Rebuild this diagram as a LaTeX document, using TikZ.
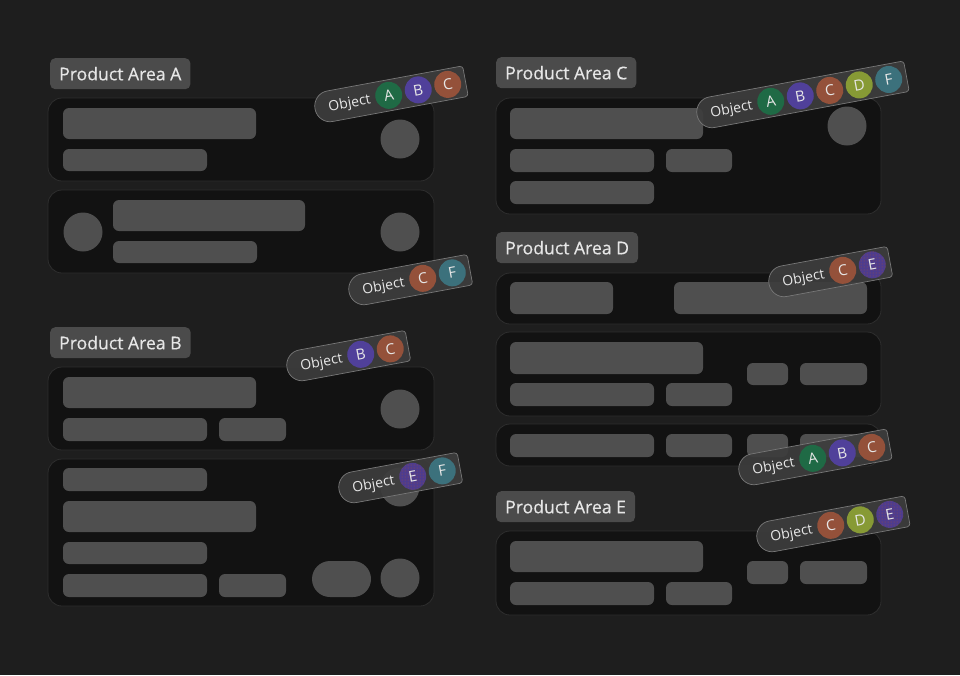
\documentclass[tikz,border=0pt]{standalone}
\usepackage{fontspec}
\setmainfont{Open Sans}
\newfontfamily\titulofuente{Open Sans}[FakeBold=0.5]
\usetikzlibrary{positioning, patterns}

\definecolor{fondo}{HTML}{1E1E1E}
\definecolor{tarjetafondo}{HTML}{121212}
\definecolor{tarjetaborde}{HTML}{2E2E2E}
\definecolor{gris}{HTML}{4F4F4F}
\definecolor{titulofondo}{HTML}{4B4B4B}
\definecolor{texto}{HTML}{E6E6E6}
\definecolor{pildorafondo}{HTML}{3D3D3D}
\definecolor{pildoraborde}{HTML}{787878}
\definecolor{objA}{HTML}{1F6A45}
\definecolor{objB}{HTML}{50409A}
\definecolor{objC}{HTML}{94513A}
\definecolor{objD}{HTML}{879A35}
\definecolor{objE}{HTML}{4E3C8E}
\definecolor{objEpunto}{HTML}{A0503E}
\definecolor{objF}{HTML}{3C717C}

% bloques de la maqueta
\newcommand{\tarjeta}[4]{\filldraw[tarjeta] (#1,#2) rectangle (#3,#4);}
\newcommand{\barra}[4]{\fill[barra] (#1,#2) rectangle (#3,#4);}
\newcommand{\punto}[2]{\fill[barra] (#1,#2) circle[radius=19.5pt];}
% etiqueta: nombre, x, y, cantidad, lista letra/color/puntos
\newcommand{\etiqueta}[5]{%
  \begin{scope}[shift={(#2,#3)}, rotate=10.5, transform shape]
    \pgfmathsetmacro{\largo}{63+30*#4}
    \filldraw[pildora] (15,-15.5) .. controls (6.7,-15.5) and (0,-8.5) .. (0,0)
      .. controls (0,8.5) and (6.7,15.5) .. (15,15.5) -- (\largo-3,15.5)
      .. controls (\largo-1.3,15.5) and (\largo,13.8) .. (\largo,12.5) -- (\largo,-12.5)
      .. controls (\largo,-13.8) and (\largo-1.3,-15.5) .. (\largo-3,-15.5) -- cycle;
    \node[objeto] (#1-obj) at (35,1.5) {Object};
    \foreach \l/\c/\p [count=\i from 0] in {#5}
      \node[circulo, fill=\c, postaction={pattern=dots, pattern color=\p}] (#1-\l) at (75+30*\i,0) {\l};
  \end{scope}}

\begin{document}
\begin{tikzpicture}[x=1pt, y=-1pt]
  \tikzstyle{tarjeta} = [fill=tarjetafondo, draw=tarjetaborde, line width=0.8pt, rounded corners=14pt]
  \tikzstyle{barra} = [fill=gris, rounded corners=6pt]
  \tikzstyle{titulo} = [fill=titulofondo, text=texto, rounded corners=5pt, anchor=north west, minimum height=31pt, inner xsep=9pt, font=\titulofuente\fontsize{17.6}{20}\selectfont]
  \tikzstyle{pildora} = [fill=pildorafondo, fill opacity=0.92, draw=pildoraborde, line width=0.7pt]
  \tikzstyle{objeto} = [text=texto, inner sep=0pt, font=\fontsize{14}{17}\selectfont]
  \tikzstyle{circulo} = [circle, minimum size=27pt, inner sep=0pt, text=texto, font=\fontsize{15}{17}\selectfont]

  \useasboundingbox[fill=fondo] (0,0) rectangle (960,675);

  % Product Area A
  \node[titulo] (tituloA) at (50,58) {Product Area A};
  \tarjeta{48}{98}{434}{181}
  \barra{63}{108}{256}{139}
  \barra{63}{149}{207}{171}
  \punto{400}{139}
  \tarjeta{48}{190}{434}{273}
  \punto{83}{232}
  \barra{113}{200}{305}{231}
  \barra{113}{241}{257}{263}
  \punto{400}{232}

  % Product Area B
  \node[titulo] (tituloB) at (50,327) {Product Area B};
  \tarjeta{48}{367}{434}{450}
  \barra{63}{377}{256}{408}
  \barra{63}{418}{207}{441}
  \barra{219}{418}{286}{441}
  \punto{400}{409}
  \tarjeta{48}{459}{434}{606}
  \barra{63}{468}{207}{491}
  \barra{63}{501}{256}{532}
  \barra{63}{542}{207}{564}
  \barra{63}{574}{207}{597}
  \barra{219}{574}{286}{597}
  \fill[barra, rounded corners=18pt] (312,561) rectangle (371,597);
  \punto{400}{578}
  \punto{400}{487}

  % Product Area C
  \node[titulo] (tituloC) at (496,57) {Product Area C};
  \tarjeta{496}{98}{881}{214}
  \barra{510}{108}{703}{139}
  \barra{510}{149}{654}{172}
  \barra{666}{149}{732}{172}
  \barra{510}{181}{654}{204}
  \punto{847}{126}

  % Product Area D
  \node[titulo] (tituloD) at (496,232) {Product Area D};
  \tarjeta{496}{273}{881}{324}
  \barra{510}{282}{613}{314}
  \barra{674}{282}{867}{314}
  \tarjeta{496}{332}{881}{416}
  \barra{510}{342}{703}{374}
  \barra{510}{383}{654}{406}
  \barra{666}{383}{732}{406}
  \barra{747}{363}{788}{385}
  \barra{800}{363}{867}{385}
  \tarjeta{496}{424}{881}{466}
  \barra{510}{434}{654}{457}
  \barra{666}{434}{732}{457}
  \barra{747}{434}{788}{457}
  \barra{800}{434}{867}{457}

  % Product Area E
  \node[titulo] (tituloE) at (496,491) {Product Area E};
  \tarjeta{496}{531}{881}{615}
  \barra{510}{541}{703}{572}
  \barra{510}{582}{654}{605}
  \barra{666}{582}{732}{605}
  \barra{747}{561}{788}{584}
  \barra{800}{561}{867}{584}

  % etiquetas de objetos
  \etiqueta{tagAuno}{315}{109}{3}{A/objA/objA, B/objB/objB, C/objC/objC}
  \etiqueta{tagAdos}{349}{292}{2}{C/objC/objC, F/objF/objF}
  \etiqueta{tagBuno}{287}{368}{2}{B/objB/objB, C/objC/objC}
  \etiqueta{tagBdos}{339}{490}{2}{E/objE/objEpunto, F/objF/objF}
  \etiqueta{tagC}{697}{115}{5}{A/objA/objA, B/objB/objB, C/objC/objC, D/objD/objD, F/objF/objF}
  \etiqueta{tagDuno}{769}{284}{2}{C/objC/objC, E/objE/objEpunto}
  \etiqueta{tagDtres}{739}{472}{3}{A/objA/objA, B/objB/objB, C/objC/objC}
  \etiqueta{tagE}{757}{539}{3}{C/objC/objC, D/objD/objD, E/objE/objEpunto}
\end{tikzpicture}
\end{document}
